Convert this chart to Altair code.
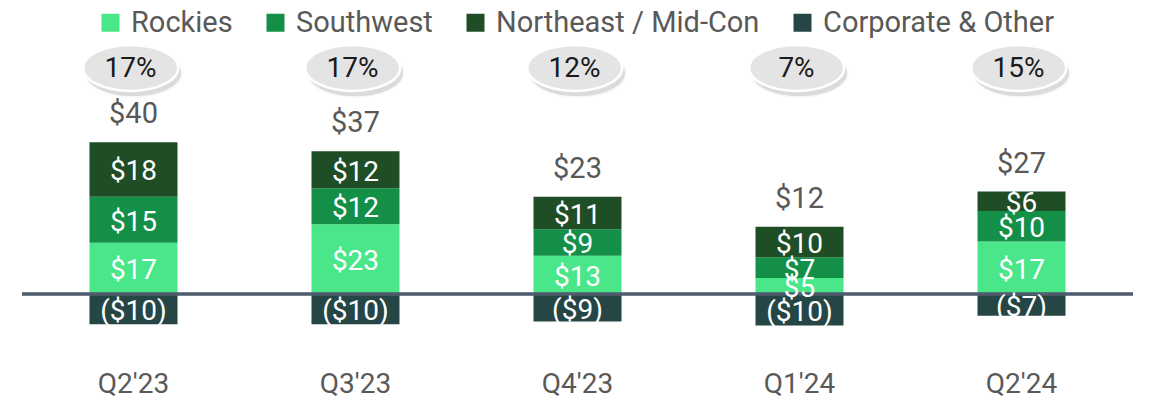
import altair as alt
import pandas as pd

FONT = "Roboto"
GRAY = "#595959"

quarters = ["Q2'23", "Q3'23", "Q4'23", "Q1'24", "Q2'24"]
segments = ["Rockies", "Southwest", "Northeast / Mid-Con", "Corporate & Other"]
seg_colors = ["#4AE68A", "#138F47", "#1F4D26", "#264545"]
rockies = [16.9, 23.0, 12.6, 5.3, 17.3]
southwest = [15.2, 11.9, 8.8, 6.8, 10.1]
northeast = [18.0, 12.2, 10.7, 10.1, 6.4]
corporate = [-10.0, -10.0, -9.1, -10.4, -7.2]
totals = [40, 37, 23, 12, 27]
margins = ["17%", "17%", "12%", "7%", "15%"]

rows = []
for i, q in enumerate(quarters):
    for k, (name, vals) in enumerate(zip(segments, [rockies, southwest, northeast, corporate])):
        v = vals[i]
        label = f"${round(v)}" if v >= 0 else f"(${round(-v)})"
        rows.append({"quarter": q, "segment": name, "value": v, "order": k, "label": label})
seg_df = pd.DataFrame(rows)
sum_df = pd.DataFrame({"quarter": quarters,
                       "total": [f"${t}" for t in totals],
                       "margin": margins})

# ellipse badge shapes (unit coordinates, scaled by the point size)
b, c = 0.484, 0.267


def ellipse(dx, dy):
    pts = [(1, 0), (1, c), (0.552, b), (0, b), (-0.552, b), (-1, c), (-1, 0),
           (-1, -c), (-0.552, -b), (0, -b), (0.552, -b), (1, -c), (1, 0)]
    p = [(round(x + dx, 3), round(y + dy, 3)) for x, y in pts]
    s = f"M {p[0][0]} {p[0][1]} "
    for j in range(1, 13, 3):
        s += "C " + " ".join(f"{p[j + m][0]} {p[j + m][1]}" for m in range(3)) + " "
    return s + "Z"


ELL = ellipse(-0.06, 0)
SHADOW = ellipse(0.0, 0.11)

yscale = alt.Scale(domain=[-22.77, 94.39], nice=False, zero=False)
xenc = alt.X("quarter:N", sort=quarters,
             scale=alt.Scale(paddingInner=0.6036, paddingOuter=0.304),
             axis=alt.Axis(title=None, labelFontSize=28, labelColor=GRAY, labelFont=FONT,
                           ticks=False, domain=False, labelPadding=7, labelAngle=0))

base = alt.Chart(seg_df).transform_stack(
    stack="value", groupby=["quarter"], as_=["y0", "y1"],
    sort=[alt.SortField("order", "ascending")]
)

bars = base.mark_bar().encode(
    x=xenc,
    y=alt.Y("y0:Q", scale=yscale, axis=None),
    y2="y1:Q",
    color=alt.Color("segment:N",
                    scale=alt.Scale(domain=segments, range=seg_colors),
                    legend=alt.Legend(orient="none", legendX=74, legendY=0,
                                      direction="horizontal", title=None,
                                      symbolType="square", symbolSize=324,
                                      symbolStrokeWidth=0, symbolOpacity=1,
                                      labelFontSize=29, labelFont=FONT,
                                      labelColor=GRAY, labelOffset=6,
                                      labelLimit=500, columnPadding=28)),
)

rule = alt.Chart(sum_df).mark_rule(color="#4F5B6E", strokeWidth=2.5).encode(
    y=alt.datum(0)
)

seg_labels = base.transform_calculate(mid="(datum.y0 + datum.y1) / 2").mark_text(
    color="white", fontSize=28, font=FONT, baseline="middle", dy=3
).encode(x=xenc, y=alt.Y("mid:Q", scale=yscale), text="label:N")

total_labels = alt.Chart(seg_df).transform_filter("datum.value > 0").transform_aggregate(
    top="sum(value)", groupby=["quarter"]
).transform_lookup(
    lookup="quarter", from_=alt.LookupData(sum_df, "quarter", ["total"])
).mark_text(dy=-28, color=GRAY, fontSize=29, font=FONT, baseline="middle").encode(
    x=xenc, y=alt.Y("top:Q", scale=yscale), text="total:N"
)

shadow = alt.Chart(sum_df).mark_point(
    shape=SHADOW, size=9025, filled=True, fill="#8C8C8C", opacity=0.3,
    stroke="#8C8C8C", strokeWidth=3, strokeOpacity=0.2
).encode(x=xenc, y=alt.datum(74.6))

badges = alt.Chart(sum_df).mark_point(
    shape=ELL, size=9025, filled=True, fill="#E4E4E4", opacity=1,
    stroke="white", strokeWidth=2.5
).encode(x=xenc, y=alt.datum(74.6))

pct = alt.Chart(sum_df).mark_text(
    color="#1A1A1A", fontSize=28, font=FONT, baseline="middle", dx=-3, dy=1
).encode(x=xenc, y=alt.datum(74.6), text="margin:N")

chart = alt.layer(bars, rule, seg_labels, total_labels, shadow, badges, pct).properties(
    width=1111, height=355,
    padding={"left": 14, "right": 14, "top": 0, "bottom": 36},
    autosize=alt.AutoSizeParams(type="none"),
).configure_view(stroke=None)

chart.save("out.html", embed_options={"renderer": "svg", "actions": False})
